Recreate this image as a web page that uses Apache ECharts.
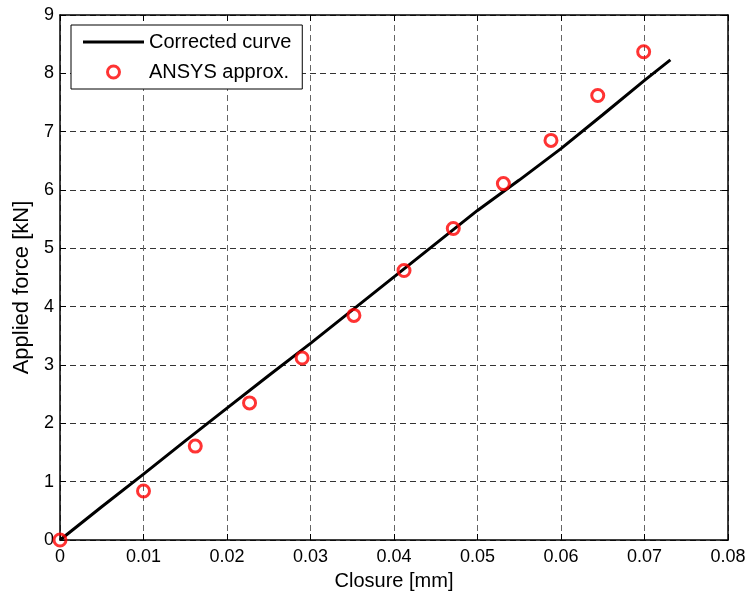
<!DOCTYPE html>
<html>
<head>
<meta charset="utf-8">
<title>Applied force vs closure</title>
<script src="https://cdn.jsdelivr.net/npm/echarts@6/dist/echarts.min.js"></script>
<style>
  html, body { margin: 0; padding: 0; background: #fff; }
  #chart { width: 750px; height: 596px; }
</style>
</head>
<body>
<div id="chart"></div>
<script>
// Corrected load–closure curve (closure in mm, force in kN)
const curveClosure = [0, 0.005, 0.01, 0.015, 0.02, 0.025, 0.03, 0.035, 0.04, 0.045, 0.05, 0.055, 0.06, 0.065, 0.07, 0.0731];
const curveForce   = [0, 0.57, 1.13, 1.70, 2.26, 2.82, 3.37, 3.94, 4.51, 5.08, 5.65, 6.17, 6.71, 7.29, 7.88, 8.23];

// ANSYS approximation points
const ansysClosure = [0, 0.01, 0.0162, 0.0227, 0.029, 0.0352, 0.0412, 0.0471, 0.0531, 0.0588, 0.0644, 0.0699];
const ansysForce   = [0, 0.84, 1.61, 2.35, 3.12, 3.85, 4.62, 5.34, 6.11, 6.85, 7.62, 8.37];

const seriesNames = ['Corrected curve', 'ANSYS approx.'];
const xTitle = 'Closure [mm]';
const yTitle = 'Applied force [kN]';

const FONT = '"Liberation Sans", Arial, Helvetica, sans-serif';

const zip = (a, b) => a.map((v, i) => [v, b[i]]);

const chart = echarts.init(document.getElementById('chart'), null, { renderer: 'canvas' });

const axisLine = { show: true, onZero: false, lineStyle: { color: '#000', width: 1.5 } };
const tickIn = { show: true, inside: true, length: 6, lineStyle: { color: '#000', width: 1 } };
const ringStyle = { color: 'rgba(255,255,255,0)', borderColor: '#ff0000', borderWidth: 3 };

chart.setOption({
  animation: false,
  backgroundColor: '#fff',
  textStyle: { fontFamily: FONT, color: '#000' },
  grid: { left: 60, right: 22, top: 15, bottom: 55, containLabel: false },
  legend: {
    left: 71, top: 25,
    orient: 'vertical',
    backgroundColor: '#fff',
    borderColor: '#000', borderWidth: 1,
    padding: [7, 11, 7, 12],
    itemGap: 10,
    itemWidth: 61, itemHeight: 12,
    symbolKeepAspect: true,
    textStyle: { fontFamily: FONT, fontSize: 20, color: '#000' },
    data: [
      // thick horizontal bar as the line sample
      { name: seriesNames[0], icon: 'path://M0,0H61V3H0Z', itemStyle: { color: '#000' } },
      { name: seriesNames[1], icon: 'circle', itemStyle: ringStyle }
    ]
  },
  xAxis: [{
    type: 'value', min: 0, max: 0.08, interval: 0.01,
    name: xTitle, nameLocation: 'middle', nameGap: 31,
    nameTextStyle: { fontFamily: FONT, fontSize: 20, color: '#000' },
    axisLine, axisTick: tickIn,
    axisLabel: { fontFamily: FONT, fontSize: 18, color: '#000', margin: 8,
                 formatter: v => String(+v.toFixed(2)) },
    splitLine: { show: true, lineStyle: { color: '#666', type: [6, 4], width: 1 } }
  }, {
    type: 'value', position: 'top', min: 0, max: 0.08, interval: 0.01,
    axisLine, axisTick: tickIn, axisLabel: { show: false }, splitLine: { show: false }
  }],
  yAxis: [{
    type: 'value', min: 0, max: 9, interval: 1,
    name: yTitle, nameLocation: 'middle', nameGap: 27,
    nameTextStyle: { fontFamily: FONT, fontSize: 22, color: '#000', padding: [0, 20, 0, 0] },
    axisLine, axisTick: tickIn,
    axisLabel: { fontFamily: FONT, fontSize: 18, color: '#000', margin: 6 },
    splitLine: { show: true, lineStyle: { color: '#333', type: [6, 4], width: 1 } }
  }, {
    type: 'value', position: 'right', min: 0, max: 9, interval: 1,
    axisLine, axisTick: tickIn, axisLabel: { show: false }, splitLine: { show: false }
  }],
  series: [{
    name: seriesNames[0],
    type: 'line',
    data: zip(curveClosure, curveForce),
    symbol: 'none',
    lineStyle: { color: '#000', width: 3 },
    itemStyle: { color: '#000' },
    z: 2
  }, {
    name: seriesNames[1],
    type: 'scatter',
    data: zip(ansysClosure, ansysForce),
    symbol: 'circle',
    symbolSize: 12,
    itemStyle: ringStyle,
    z: 3
  }]
});
</script>
</body>
</html>
